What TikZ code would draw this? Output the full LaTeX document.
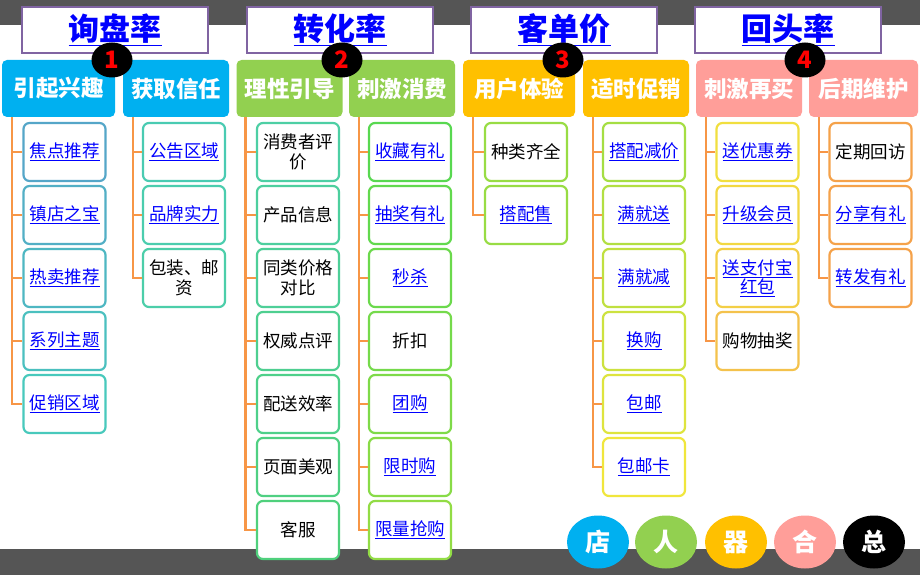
\documentclass[tikz,border=0pt]{standalone}
\usepackage{fontspec}
\setmainfont{Noto Sans CJK SC}
\usetikzlibrary{shapes,positioning}

\definecolor{band}{HTML}{555555}
\definecolor{hdline}{HTML}{8064A2}
\definecolor{linkblue}{HTML}{0000FF}
\definecolor{trunk}{HTML}{F79646}
\definecolor{catblue}{HTML}{00B0F0}
\definecolor{catgreen}{HTML}{92D050}
\definecolor{catgold}{HTML}{FFC000}
\definecolor{catpink}{HTML}{FF9E99}
\definecolor{bdsteel}{HTML}{55A6C8}
\definecolor{bdteal}{HTML}{48C9BC}
\definecolor{bdsea}{HTML}{4DCFA4}
\definecolor{bdmint}{HTML}{4FD07C}
\definecolor{bdgreen}{HTML}{58D850}
\definecolor{bdlime}{HTML}{98DC44}
\definecolor{bdyellow}{HTML}{F0E63C}
\definecolor{bdgold}{HTML}{F4C24C}
\definecolor{bdorange}{HTML}{F5A24A}

\tikzset{
  head/.style={draw=hdline, line width=1.6pt, fill=white, minimum width=186pt, minimum height=46pt, text=linkblue, font=\fontsize{31}{34}\selectfont\bfseries},
  cat/.style={fill=#1, rounded corners=5pt, minimum width=106pt, minimum height=57pt, text=white, font=\fontsize{22.5}{25}\selectfont\bfseries},
  num/.style={ellipse, fill=black, minimum width=41pt, minimum height=35pt, inner sep=0pt, text=red, font=\fontsize{24}{25}\selectfont\bfseries},
  item/.style={draw=#1, line width=2.2pt, fill=white, rounded corners=6pt, minimum width=82pt, minimum height=58pt, inner sep=1pt, align=center, font=\fontsize{17.5}{19.5}\selectfont},
  branch/.style={draw=trunk, line width=2.6pt},
  badge/.style={ellipse, fill=#1, minimum width=62pt, minimum height=53pt, inner sep=0pt, text=white, font=\fontsize{25}{26}\selectfont\bfseries},
}
\newcommand{\lk}[1]{\textcolor{linkblue}{\underline{#1}}}

\begin{document}
\begin{tikzpicture}[x=1pt,y=-1pt]
        \fill[white] (0,0) rectangle (920,575);
        \useasboundingbox (0,0) rectangle (920,575);
        % bands
        \fill[band] (0,0) rectangle (920,25);
        \fill[band] (0,549) rectangle (920,575);
        % headers
        \node[head] at (115,30) (h1) {\underline{询盘率}};
        \node[head] at (340,30) (h2) {\underline{转化率}};
        \node[head] at (564,30) (h3) {\underline{客单价}};
        \node[head] at (788,30) (h4) {\underline{回头率}};
        % categories
        \node[cat=catblue, minimum width=113pt] at (58.5,88.5) (c1) {引起兴趣};
        \node[cat=catblue] at (176,88.5) (c2) {获取信任};
        \node[cat=catgreen] at (289.5,88.5) (c3) {理性引导};
        \node[cat=catgreen] at (402,88.5) (c4) {刺激消费};
        \node[cat=catgold, minimum width=112pt] at (519,88.5) (c5) {用户体验};
        \node[cat=catgold] at (636,88.5) (c6) {适时促销};
        \node[cat=catpink] at (749,88.5) (c7) {刺激再买};
        \node[cat=catpink, minimum width=109pt] at (863.5,88.5) (c8) {后期维护};
        \node[num] at (112,60) (n1) {1};
        \node[num] at (342,60) (n2) {2};
        \node[num] at (563,60) (n3) {3};
        \node[num] at (805,60) (n4) {4};
        % items
        \node[item=bdsteel] at (64.5,152) (i11) {\lk{焦点推荐}};
        \node[item=bdsteel!75!bdteal] at (64.5,215) (i12) {\lk{镇店之宝}};
        \node[item=bdsteel!50!bdteal] at (64.5,278) (i13) {\lk{热卖推荐}};
        \node[item=bdsteel!25!bdteal] at (64.5,341) (i14) {\lk{系列主题}};
        \node[item=bdteal] at (64.5,404) (i15) {\lk{促销区域}};
        \node[item=bdteal!60!bdsea] at (184,152) (i21) {\lk{公告区域}};
        \node[item=bdteal!40!bdsea] at (184,215) (i22) {\lk{品牌实力}};
        \node[item=bdteal!20!bdsea] at (184,278) (i23) {包装、邮\\资};
        \node[item=bdsea] at (298,152) (i31) {消费者评\\价};
        \node[item=bdsea!85!bdmint] at (298,215) (i32) {产品信息};
        \node[item=bdsea!70!bdmint] at (298,278) (i33) {同类价格\\对比};
        \node[item=bdsea!50!bdmint] at (298,341) (i34) {权威点评};
        \node[item=bdsea!35!bdmint] at (298,404) (i35) {配送效率};
        \node[item=bdsea!15!bdmint] at (298,467) (i36) {页面美观};
        \node[item=bdmint] at (298,530) (i37) {客服};
        \node[item=bdgreen] at (410,152) (i41) {\lk{收藏有礼}};
        \node[item=bdgreen!85!bdlime] at (410,215) (i42) {\lk{抽奖有礼}};
        \node[item=bdgreen!70!bdlime] at (410,278) (i43) {\lk{秒杀}};
        \node[item=bdgreen!55!bdlime] at (410,341) (i44) {折扣};
        \node[item=bdgreen!40!bdlime] at (410,404) (i45) {\lk{团购}};
        \node[item=bdgreen!25!bdlime] at (410,467) (i46) {\lk{限时购}};
        \node[item=bdgreen!10!bdlime] at (410,530) (i47) {\lk{限量抢购}};
        \node[item=bdlime] at (526,152) (i51) {种类齐全};
        \node[item=bdlime] at (526,215) (i52) {\lk{搭配售}};
        \node[item=bdlime!85!bdyellow] at (644,152) (i61) {\lk{搭配减价}};
        \node[item=bdlime!70!bdyellow] at (644,215) (i62) {\lk{满就送}};
        \node[item=bdlime!55!bdyellow] at (644,278) (i63) {\lk{满就减}};
        \node[item=bdlime!40!bdyellow] at (644,341) (i64) {\lk{换购}};
        \node[item=bdlime!20!bdyellow] at (644,404) (i65) {\lk{包邮}};
        \node[item=bdyellow] at (644,467) (i66) {\lk{包邮卡}};
        \node[item=bdyellow!80!bdgold] at (757.5,152) (i71) {\lk{送优惠券}};
        \node[item=bdyellow!60!bdgold] at (757.5,215) (i72) {\lk{升级会员}};
        \node[item=bdyellow!35!bdgold] at (757.5,278) (i73) {\lk{送支付宝}\\\lk{红包}};
        \node[item=bdgold] at (757.5,341) (i74) {购物抽奖};
        \node[item=bdorange] at (870.5,152) (i81) {定期回访};
        \node[item=bdorange] at (870.5,215) (i82) {\lk{分享有礼}};
        \node[item=bdorange] at (870.5,278) (i83) {\lk{转发有礼}};
        % branches
        \draw[branch] ([xshift=10pt]c1.south west) |- (i15.west);
        \draw[branch] ([xshift=10pt]c1.south west) |- (i11.west);
        \draw[branch] ([xshift=10pt]c1.south west) |- (i12.west);
        \draw[branch] ([xshift=10pt]c1.south west) |- (i13.west);
        \draw[branch] ([xshift=10pt]c1.south west) |- (i14.west);
        \draw[branch] ([xshift=10pt]c2.south west) |- (i23.west);
        \draw[branch] ([xshift=10pt]c2.south west) |- (i21.west);
        \draw[branch] ([xshift=10pt]c2.south west) |- (i22.west);
        \draw[branch] ([xshift=9pt]c3.south west) |- (i37.west);
        \draw[branch] ([xshift=9pt]c3.south west) |- (i31.west);
        \draw[branch] ([xshift=9pt]c3.south west) |- (i32.west);
        \draw[branch] ([xshift=9pt]c3.south west) |- (i33.west);
        \draw[branch] ([xshift=9pt]c3.south west) |- (i34.west);
        \draw[branch] ([xshift=9pt]c3.south west) |- (i35.west);
        \draw[branch] ([xshift=9pt]c3.south west) |- (i36.west);
        \draw[branch] ([xshift=10pt]c4.south west) |- (i47.west);
        \draw[branch] ([xshift=10pt]c4.south west) |- (i41.west);
        \draw[branch] ([xshift=10pt]c4.south west) |- (i42.west);
        \draw[branch] ([xshift=10pt]c4.south west) |- (i43.west);
        \draw[branch] ([xshift=10pt]c4.south west) |- (i44.west);
        \draw[branch] ([xshift=10pt]c4.south west) |- (i45.west);
        \draw[branch] ([xshift=10pt]c4.south west) |- (i46.west);
        \draw[branch] ([xshift=10pt]c5.south west) |- (i52.west);
        \draw[branch] ([xshift=10pt]c5.south west) |- (i51.west);
        \draw[branch] ([xshift=10pt]c6.south west) |- (i66.west);
        \draw[branch] ([xshift=10pt]c6.south west) |- (i61.west);
        \draw[branch] ([xshift=10pt]c6.south west) |- (i62.west);
        \draw[branch] ([xshift=10pt]c6.south west) |- (i63.west);
        \draw[branch] ([xshift=10pt]c6.south west) |- (i64.west);
        \draw[branch] ([xshift=10pt]c6.south west) |- (i65.west);
        \draw[branch] ([xshift=10pt]c7.south west) |- (i74.west);
        \draw[branch] ([xshift=10pt]c7.south west) |- (i71.west);
        \draw[branch] ([xshift=10pt]c7.south west) |- (i72.west);
        \draw[branch] ([xshift=10pt]c7.south west) |- (i73.west);
        \draw[branch] ([xshift=10pt]c8.south west) |- (i83.west);
        \draw[branch] ([xshift=10pt]c8.south west) |- (i81.west);
        \draw[branch] ([xshift=10pt]c8.south west) |- (i82.west);
        % badges
        \node[badge=catblue] at (598,542) (b1) {店};
        \node[badge=catgreen] at (666,542) (b2) {人};
        \node[badge=catgold] at (736,542) (b3) {器};
        \node[badge=catpink] at (805,542) (b4) {合};
        \node[badge=black] at (874,542) (b5) {总};
      \end{tikzpicture}
\end{document}
